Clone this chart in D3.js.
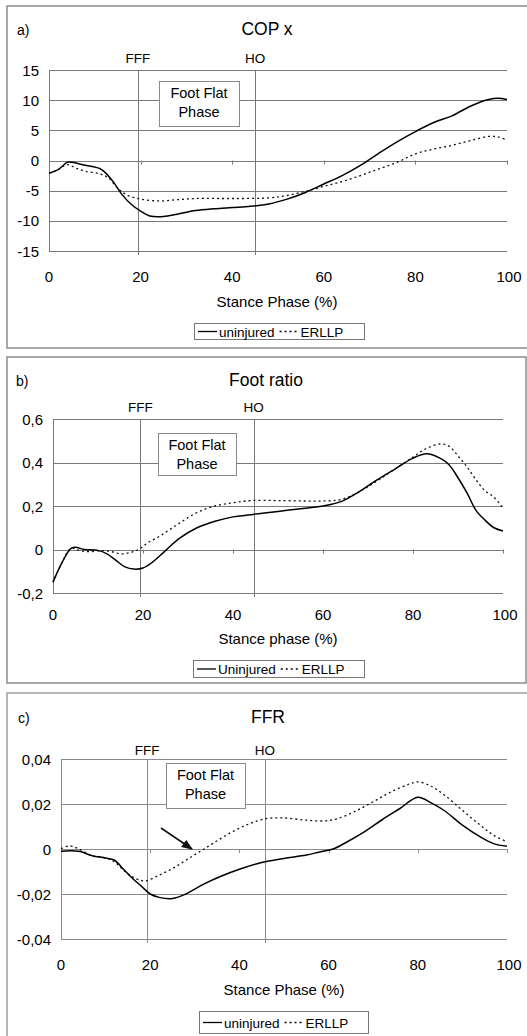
<!DOCTYPE html>
<html>
<head>
<meta charset="utf-8">
<script src="https://cdn.jsdelivr.net/npm/d3@7"></script>
<style>
body { margin: 0; background: #fff; }
svg { display: block; font-family: "Liberation Sans", Arial, sans-serif; }
</style>
</head>
<body>
<script>
var w = 527;
var h = 1036;

var xTicks = [0, 20, 40, 60, 80, 100];
var eventNames = ["FFF", "HO"];

// a) COP x
var copTicks = [-15, -10, -5, 0, 5, 10, 15];
var copEvents = [19.4, 45];
var copUninjX = [0, 2, 4, 5, 8, 11, 12, 14, 16, 18, 20, 22, 25, 28, 32, 36, 40, 44, 48, 52, 56, 60, 64, 68, 72, 76, 80, 84, 88, 92, 96, 98, 100];
var copUninjY = [-2.1, -1.5, -0.3, -0.3, -0.8, -1.3, -1.8, -3.5, -5.7, -7.3, -8.4, -9.2, -9.3, -8.9, -8.3, -8.0, -7.8, -7.6, -7.2, -6.4, -5.3, -3.9, -2.5, -0.8, 1.2, 3.1, 4.8, 6.3, 7.4, 9.0, 10.1, 10.3, 10.1];
var copErllpX = [0, 2, 4, 6, 8, 11, 13, 15, 17, 20, 24, 28, 32, 40, 48, 52, 56, 60, 64, 68, 72, 76, 80, 84, 88, 92, 96, 98, 100];
var copErllpY = [-2.1, -1.5, -0.7, -1.3, -1.8, -2.2, -2.9, -4.6, -5.7, -6.4, -6.7, -6.5, -6.3, -6.3, -6.2, -5.8, -5.1, -4.3, -3.5, -2.5, -1.4, -0.3, 1.1, 1.9, 2.5, 3.3, 4.0, 3.9, 3.4];

// b) Foot ratio
var ratioTicks = [-0.2, 0, 0.2, 0.4, 0.6];
var ratioEvents = [19.4, 44.6];
var ratioUninjX = [0, 2, 4, 5, 7, 10, 12, 14, 16, 18, 20, 22, 25, 28, 32, 36, 40, 44, 50, 56, 60, 64, 68, 72, 76, 80, 83, 86, 88, 90, 92, 94, 96, 98, 100];
var ratioUninjY = [-0.15, -0.06, 0.005, 0.01, 0, -0.004, -0.02, -0.05, -0.08, -0.09, -0.085, -0.06, -0.005, 0.05, 0.1, 0.13, 0.15, 0.16, 0.175, 0.19, 0.2, 0.22, 0.265, 0.32, 0.37, 0.42, 0.44, 0.42, 0.39, 0.33, 0.26, 0.18, 0.135, 0.1, 0.085];
var ratioErllpX = [0, 2, 4, 6, 8, 11, 13, 15, 17, 19, 21, 24, 28, 32, 36, 40, 44, 50, 56, 60, 64, 68, 72, 76, 80, 83, 86, 88, 90, 92, 94, 96, 98, 100];
var ratioErllpY = [-0.15, -0.06, 0.005, -0.005, -0.01, -0.005, -0.01, -0.02, -0.015, 0, 0.03, 0.065, 0.12, 0.17, 0.2, 0.215, 0.225, 0.225, 0.223, 0.223, 0.23, 0.265, 0.315, 0.37, 0.425, 0.465, 0.485, 0.475, 0.43, 0.38, 0.32, 0.27, 0.24, 0.19];

// c) FFR
var ffrTicks = [-0.04, -0.02, 0, 0.02, 0.04];
var ffrEvents = [19.3, 45.7];
var ffrUninjX = [0, 4, 7, 10, 12, 14, 16, 18, 20, 22, 25, 28, 32, 36, 40, 45, 50, 55, 58, 61, 64, 68, 72, 76, 80, 83, 86, 90, 94, 97, 100];
var ffrUninjY = [-0.001, -0.001, -0.003, -0.004, -0.005, -0.009, -0.013, -0.0165, -0.02, -0.0215, -0.022, -0.02, -0.0156, -0.012, -0.009, -0.006, -0.0042, -0.0027, -0.0013, 0, 0.003, 0.0076, 0.013, 0.018, 0.023, 0.0205, 0.017, 0.0106, 0.0054, 0.0024, 0.0012];
var ffrErllpX = [0, 2, 4, 7, 10, 12, 14, 16, 18, 19, 22, 25, 28, 31, 34, 38, 42, 46, 50, 55, 59, 62, 66, 70, 74, 78, 80, 83, 86, 90, 94, 97, 100];
var ffrErllpY = [0.0002, 0.0014, 0, -0.003, -0.004, -0.0057, -0.0094, -0.0124, -0.014, -0.0142, -0.0116, -0.0087, -0.005, -0.0013, 0.0024, 0.0072, 0.011, 0.0135, 0.0138, 0.0128, 0.0125, 0.0135, 0.0168, 0.021, 0.0254, 0.0288, 0.0298, 0.0279, 0.0239, 0.0172, 0.0106, 0.0061, 0.0032];

var locale = d3.formatLocale({decimal: ",", thousands: ".", grouping: [3], currency: ["", ""], minus: "-"});

var svg = d3.select("body")
            .append("svg")
            .attr("width", w)
            .attr("height", h);

function zip(xs, ys) {
    return xs.map(function(x, i) { return [x, ys[i]]; });
}

function drawPanel(p) {
    var g = svg.append("g");

    // panel frame
    g.append("rect")
        .attr("x", p.frame[0]).attr("y", p.frame[1])
        .attr("width", p.frame[2]).attr("height", p.frame[3])
        .attr("fill", "none")
        .attr("stroke", p.frameColor)
        .attr("stroke-width", 1.5);

    var x = d3.scaleLinear().domain([0, 100]).range([p.left, p.right]);
    var y = d3.scaleLinear().domain(p.yDomain).range([p.bottom, p.top]);
    var fmt = locale.format(p.fmt);

    // horizontal gridlines
    g.selectAll(".grid")
        .data(p.yTicks)
        .enter()
        .append("line")
        .attr("x1", p.left).attr("x2", p.right)
        .attr("y1", function(d) { return Math.round(y(d)) + 0.5; })
        .attr("y2", function(d) { return Math.round(y(d)) + 0.5; })
        .attr("stroke", p.gridColor)
        .attr("stroke-width", 1);

    // left axis line
    g.append("line")
        .attr("x1", p.left + 0.5).attr("x2", p.left + 0.5)
        .attr("y1", p.top).attr("y2", p.bottom)
        .attr("stroke", p.gridColor);

    // small ticks hanging from the zero line
    g.selectAll(".xt")
        .data(xTicks.slice(1))
        .enter()
        .append("line")
        .attr("x1", function(d) { return Math.round(x(d)) + 0.5; })
        .attr("x2", function(d) { return Math.round(x(d)) + 0.5; })
        .attr("y1", y(0))
        .attr("y2", y(0) + 4)
        .attr("stroke", p.gridColor);

    // y labels
    g.selectAll(".yl")
        .data(p.yTicks)
        .enter()
        .append("text")
        .attr("x", p.left - 10)
        .attr("y", function(d) { return y(d) + 5.5; })
        .attr("text-anchor", "end")
        .attr("font-size", 15)
        .text(function(d) { return d == 0 ? "0" : fmt(d); });

    // x labels
    g.selectAll(".xl")
        .data(xTicks)
        .enter()
        .append("text")
        .attr("x", function(d) { return x(d) + (d == 100 ? 2 : 0); })
        .attr("y", p.xLabelY)
        .attr("text-anchor", "middle")
        .attr("font-size", 15)
        .text(function(d) { return d; });

    // event lines
    g.selectAll(".ev")
        .data(p.events)
        .enter()
        .append("line")
        .attr("x1", function(d) { return Math.round(x(d)) + 0.5; })
        .attr("x2", function(d) { return Math.round(x(d)) + 0.5; })
        .attr("y1", p.top)
        .attr("y2", p.bottom + 4)
        .attr("stroke", p.gridColor);

    g.selectAll(".evl")
        .data(p.events)
        .enter()
        .append("text")
        .attr("x", function(d) { return x(d); })
        .attr("y", p.eventY)
        .attr("text-anchor", "middle")
        .attr("font-size", 13.5)
        .text(function(d, i) { return eventNames[i]; });

    // Foot Flat Phase box
    g.append("rect")
        .attr("x", p.ffBox[0] + 0.5).attr("y", p.ffBox[1] + 0.5)
        .attr("width", p.ffBox[2]).attr("height", p.ffBox[3])
        .attr("fill", "#fff")
        .attr("stroke", "#8a8a8a");
    g.append("text")
        .attr("x", p.ffBox[0] + p.ffBox[2] / 2)
        .attr("y", p.ffBox[1] + 17)
        .attr("text-anchor", "middle")
        .attr("font-size", 14.5)
        .text("Foot Flat");
    g.append("text")
        .attr("x", p.ffBox[0] + p.ffBox[2] / 2)
        .attr("y", p.ffBox[1] + 36)
        .attr("text-anchor", "middle")
        .attr("font-size", 14.5)
        .text("Phase");

    // series
    var line = d3.line()
        .x(function(d) { return x(d[0]); })
        .y(function(d) { return y(d[1]); })
        .curve(d3.curveCatmullRom.alpha(0.5));

    g.append("path")
        .attr("d", line(p.erllp))
        .attr("fill", "none")
        .attr("stroke", "#111")
        .attr("stroke-width", 1.3)
        .attr("stroke-dasharray", "2,3");

    g.append("path")
        .attr("d", line(p.uninj))
        .attr("fill", "none")
        .attr("stroke", "#000")
        .attr("stroke-width", 1.5);

    // titles
    g.append("text")
        .attr("x", p.letterX).attr("y", p.titleY)
        .attr("font-size", 14)
        .text(p.letter);
    g.append("text")
        .attr("x", p.titleX).attr("y", p.titleY)
        .attr("text-anchor", "middle")
        .attr("font-size", 17.5)
        .text(p.title);
    g.append("text")
        .attr("x", p.xTitleX).attr("y", p.xTitleY)
        .attr("text-anchor", "middle")
        .attr("font-size", 15)
        .text(p.xTitle);

    // legend
    var lg = p.legend;
    g.append("rect")
        .attr("x", lg[0] + 0.5).attr("y", lg[1] + 0.5)
        .attr("width", lg[2]).attr("height", lg[3])
        .attr("fill", "#fff")
        .attr("stroke", "#777");
    var my = lg[1] + lg[3] / 2 + 0.5;
    g.append("line")
        .attr("x1", lg[0] + 4).attr("x2", lg[0] + 23)
        .attr("y1", my).attr("y2", my)
        .attr("stroke", "#000").attr("stroke-width", 1.3);
    var t1 = g.append("text")
        .attr("x", lg[0] + 25).attr("y", my + 5)
        .attr("font-size", 13.5)
        .text(p.uninjName);
    var tx = lg[0] + 25 + t1.node().getComputedTextLength() + 5;
    g.append("line")
        .attr("x1", tx).attr("x2", tx + 19)
        .attr("y1", my).attr("y2", my)
        .attr("stroke", "#000").attr("stroke-width", 1.3)
        .attr("stroke-dasharray", "2,3");
    g.append("text")
        .attr("x", tx + 21).attr("y", my + 5)
        .attr("font-size", 13.5)
        .text("ERLLP");

    return {x: x, y: y, g: g};
}

drawPanel({
    frame: [7, 6, 530, 342], frameColor: "#8c8c8c", gridColor: "#7a7a7a",
    left: 49, right: 507, top: 70, bottom: 251,
    yDomain: [-15, 15], yTicks: copTicks, fmt: "d",
    xLabelY: 282, events: copEvents, eventY: 63,
    ffBox: [159, 81, 80, 45],
    uninj: zip(copUninjX, copUninjY), erllp: zip(copErllpX, copErllpY),
    letter: "a)", letterX: 17, title: "COP x", titleX: 267, titleY: 35,
    xTitle: "Stance Phase (%)", xTitleX: 277, xTitleY: 307,
    legend: [194, 323, 170, 16], uninjName: "uninjured"
});

drawPanel({
    frame: [7, 357, 519, 326], frameColor: "#8c8c8c", gridColor: "#7a7a7a",
    left: 53, right: 503, top: 419, bottom: 593,
    yDomain: [-0.2, 0.6], yTicks: ratioTicks, fmt: ".1f",
    xLabelY: 620, events: ratioEvents, eventY: 412,
    ffBox: [158, 433, 78, 42],
    uninj: zip(ratioUninjX, ratioUninjY), erllp: zip(ratioErllpX, ratioErllpY),
    letter: "b)", letterX: 16, title: "Foot ratio", titleX: 266, titleY: 386,
    xTitle: "Stance phase (%)", xTitleX: 278, xTitleY: 644,
    legend: [193, 660, 171, 17], uninjName: "Uninjured"
});

var c = drawPanel({
    frame: [7, 693, 530, 350], frameColor: "#a0a0a0", gridColor: "#8a8a8a",
    left: 61, right: 507, top: 759, bottom: 939,
    yDomain: [-0.04, 0.04], yTicks: ffrTicks, fmt: ".2f",
    xLabelY: 970, events: ffrEvents, eventY: 755,
    ffBox: [166, 763, 79, 45],
    uninj: zip(ffrUninjX, ffrUninjY), erllp: zip(ffrErllpX, ffrErllpY),
    letter: "c)", letterX: 18, title: "FFR", titleX: 268, titleY: 723,
    xTitle: "Stance Phase (%)", xTitleX: 284, xTitleY: 995,
    legend: [199, 1011, 169, 22], uninjName: "uninjured"
});

// arrow pointing at the ERLLP curve in FFR
c.g.append("defs").append("marker")
    .attr("id", "ah")
    .attr("viewBox", "0 0 10 10")
    .attr("refX", 9).attr("refY", 5)
    .attr("markerWidth", 7).attr("markerHeight", 7)
    .attr("orient", "auto")
    .append("path")
    .attr("d", "M0,1 L10,5 L0,9 Z")
    .attr("fill", "#111");
c.g.append("line")
    .attr("x1", 161).attr("y1", 828)
    .attr("x2", 192).attr("y2", 849)
    .attr("stroke", "#111")
    .attr("stroke-width", 1.6)
    .attr("marker-end", "url(#ah)");
</script>
</body>
</html>
